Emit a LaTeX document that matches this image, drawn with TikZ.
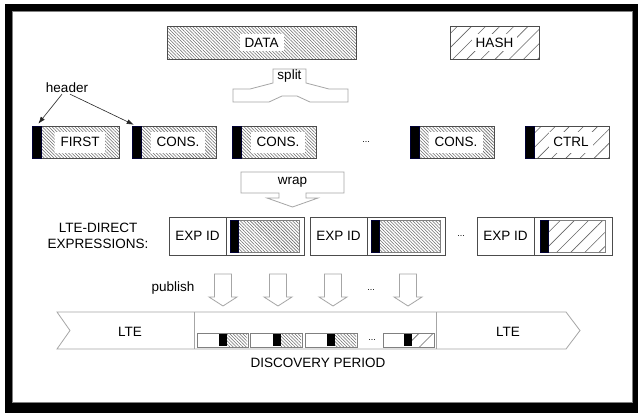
\documentclass[tikz,border=0pt]{standalone}
\usepackage{fontspec}
\setmainfont{Liberation Sans}
\usetikzlibrary{arrows.meta,patterns.meta,positioning,calc}

\tikzset{
  box/.style={draw=gray!60!black, line width=.6pt, inner sep=0pt, outer sep=0pt},
  dense/.style={pattern={Lines[angle=-45,distance=2.3pt,line width=.55pt]}, pattern color=gray!85!black},
  sparse/.style={pattern={Lines[angle=45,distance=10pt,line width=.6pt]}, pattern color=gray!80!black},
  lbl/.style={fill=white, inner xsep=6pt, inner ysep=0pt, minimum height=21},
  hdr/.style={fill=black, draw=black!80!blue, line width=.4pt, inner sep=0pt, outer sep=0pt, minimum width=9, minimum height=32},
  hollow/.style={draw=gray!70, line width=.8pt, fill=white, line join=miter},
  frag/.style={box, dense, minimum width=84, minimum height=32},
  expid/.style={box, fill=white, minimum width=57, minimum height=38},
  payload/.style={box, fill=white, minimum width=78, minimum height=38},
  slot/.style={box, draw=gray, fill=white, minimum height=14},
}

\begin{document}
\begin{tikzpicture}[x=1pt,y=-1pt,font=\fontsize{13.5}{15.5}\selectfont]
  \useasboundingbox (0,0) rectangle (638,413);
  % frame
  \fill[black] (5,4) rectangle (638,413);
  \fill[white] (12,11) rectangle (632,402);
  \draw[gray, line width=.8pt] (12,11) rectangle (632,402);

  % data and hash
  \node(data) at (261.5,42.5) [box, dense, minimum width=189, minimum height=33] {};
  \node(datal) at (data.center) [lbl, inner xsep=5pt, minimum height=17] {DATA};
  \node(hash) at (494.5,42.5) [box, sparse, minimum width=89, minimum height=33] {};
  \node(hashl) at (hash.center) [lbl, inner xsep=4pt, minimum height=17] {HASH};

  % split
  \draw[hollow] (233,89) -- (250,89) -- (273,83) -- (273,69) -- (306,69) -- (306,83)
     -- (329,89) -- (348,89) -- (348,102) -- (310,102) -- (297,96) -- (282,96)
     -- (269,102) -- (233,102) -- cycle;
  \node(split) at (289.5,76.5) [inner sep=0pt] {split};

  % fragments
  \node(f1) at (75.5,142) [frag, minimum width=87] {};
  \node(f1h) [hdr, anchor=north west] at (f1.north west) {};
  \node(f1l) at (80,142) [lbl] {FIRST};
  \node(c1) at (174,142) [frag] {};
  \node(c1h) [hdr, anchor=north west] at (c1.north west) {};
  \node(c1l) at (178,142) [lbl] {CONS.};
  \node(c2) at (274,142) [frag] {};
  \node(c2h) [hdr, anchor=north west] at (c2.north west) {};
  \node(c2l) at (278,142) [lbl] {CONS.};
  \node(dots1) at (366,142) {\small ...};
  \node(c3) at (452,142) [frag] {};
  \node(c3h) [hdr, anchor=north west] at (c3.north west) {};
  \node(c3l) at (456,142) [lbl] {CONS.};
  \node(ctrl) at (567,142) [frag, sparse] {};
  \node(ctrlh) [hdr, anchor=north west] at (ctrl.north west) {};
  \node(ctrll) at (571,142) [lbl, inner xsep=4pt] {CTRL};

  \node(hlabel) at (67,88) [inner sep=1pt] {header};
  \draw[-{Latex[length=7pt,width=5pt]}, gray!30!black, line width=.6pt, shorten >=3pt]
     ([xshift=-5pt]hlabel.south) -- (f1h.north);
  \draw[-{Latex[length=7pt,width=5pt]}, gray!30!black, line width=.6pt, shorten >=3pt]
     ([xshift=3pt]hlabel.south) -- (c1h.north);

  % wrap
  \draw[hollow] (241,172) -- (344,172) -- (344,193) -- (306,193) -- (306,198) -- (318,198)
     -- (292.5,207) -- (267,198) -- (279,198) -- (279,193) -- (241,193) -- cycle;
  \node(wrap) at (292.5,182.5) [inner sep=0pt] {wrap};

  % expressions
  \node(expr) at (98,236) [align=center] {LTE-DIRECT\\EXPRESSIONS:};

  \node(x1) at (197.5,236) [expid] {EXP ID};
  \node(x1p) [payload, right=0pt of x1] {};
  \node(x1h) at (x1p.center) [box, draw=gray, dense, minimum width=69, minimum height=32] {};
  \node(x1b) [hdr, minimum width=8, anchor=west] at (x1h.west) {};

  \node(x2) at (338.5,236) [expid] {EXP ID};
  \node(x2p) [payload, right=0pt of x2] {};
  \node(x2h) at (x2p.center) [box, draw=gray, dense, minimum width=69, minimum height=32] {};
  \node(x2b) [hdr, minimum width=8, anchor=west] at (x2h.west) {};

  \node(dots2) at (461,236) {\small ...};

  \node(x3) at (505.5,236) [expid] {EXP ID};
  \node(x3p) [payload, right=0pt of x3] {};
  \node(x3h) at (x3p.center) [box, draw=gray, sparse, minimum width=65, minimum height=32] {};
  \node(x3b) [hdr, minimum width=8, anchor=west] at (x3h.west) {};

  % publish
  \node(publish) at (173,288) {publish};
  \draw[hollow, shift={(223,0)}] (-8.5,274) -- (8.5,274) -- (8.5,297) -- (14,297) -- (0,306)
     -- (-14,297) -- (-8.5,297) -- cycle;
  \draw[hollow, shift={(278,0)}] (-8.5,274) -- (8.5,274) -- (8.5,297) -- (14,297) -- (0,306)
     -- (-14,297) -- (-8.5,297) -- cycle;
  \draw[hollow, shift={(333,0)}] (-8.5,274) -- (8.5,274) -- (8.5,297) -- (14,297) -- (0,306)
     -- (-14,297) -- (-8.5,297) -- cycle;
  \node(dots3) at (371,290) {\small ...};
  \draw[hollow, shift={(408,0)}] (-8.5,274) -- (8.5,274) -- (8.5,297) -- (14,297) -- (0,306)
     -- (-14,297) -- (-8.5,297) -- cycle;

  % timeline
  \draw[hollow] (57,312) -- (566,312) -- (580,330.5) -- (566,349) -- (57,349) -- (70,330.5) -- cycle;
  \draw[gray!70, line width=.8pt] (194,312) -- (194,349);
  \draw[gray!70, line width=.8pt] (436,312) -- (436,349);
  \node(lteL) at (130,332) {LTE};
  \node(lteR) at (508,332) {LTE};

  \node(s1) at (222.5,340) [slot, minimum width=51] {};
  \fill[dense] (227,334) rectangle (247,346);
  \fill[black] (219,334) rectangle (227,346);
  \node(s2) at (276,340) [slot, minimum width=52] {};
  \fill[dense] (281,334) rectangle (301,346);
  \fill[black] (273,334) rectangle (281,346);
  \node(s3) at (331,340) [slot, minimum width=52] {};
  \fill[dense] (335,334) rectangle (356,346);
  \fill[black] (327,334) rectangle (335,346);
  \node(dots4) at (372,340) {\small ...};
  \node(s4) at (408.5,340) [slot, minimum width=51] {};
  \fill[sparse] (412,334) rectangle (433,346);
  \fill[black] (404,334) rectangle (412,346);

  \node(disc) at (318,363) {DISCOVERY PERIOD};
\end{tikzpicture}
\end{document}
